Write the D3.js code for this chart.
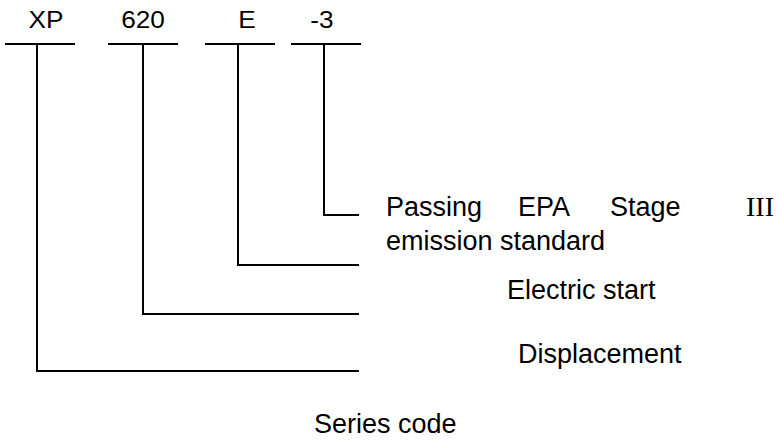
<!DOCTYPE html>
<html>
<head>
<meta charset="utf-8">
<script src="https://cdn.jsdelivr.net/npm/d3@7"></script>
<style>
body { margin: 0; background: #fff; }
text { font-family: "Liberation Sans", Arial, sans-serif; font-size: 27px; fill: #000; }
</style>
</head>
<body>
<div id="main"></div>
<script>
// model code parts, left to right
var codeParts = ["XP", "620", "E", "-3"];
// what each part means
var meanings = ["Series code", "Displacement", "Electric start", "Passing EPA Stage III emission standard"];

// layout
var W = 779, H = 440;
var barLeft = [5, 108, 205, 291];
var barW = 70;
var stemX = [37, 143, 238, 324];
var labelX = [46, 143, 247, 322];
var elbowY = [371, 314, 265, 215];
var barY = 44;
var lineEnd = 359;
// word starts of the spread-out first line of the last description
var wordX = [386, 518, 610, 746];

var svg = d3.select("#main").append("svg")
	.attr("width", W)
	.attr("height", H);

var parts = codeParts.map(function(d, i){ return {code: d, meaning: meanings[i], i: i}; });

var g = svg.selectAll("g.part").data(parts)
	.enter()
	.append("g")
	.attr("class", "part");

// top labels (a bit wide in the original)
g.append("text")
	.attr("transform", function(d){ return "translate(" + labelX[d.i] + ",28) scale(1.14,1)"; })
	.attr("text-anchor", "middle")
	.style("font-size", "23px")
	.text(function(d){ return d.code; });

// bar under label
g.append("line")
	.attr("x1", function(d){ return barLeft[d.i]; })
	.attr("x2", function(d){ return barLeft[d.i] + barW; })
	.attr("y1", barY).attr("y2", barY)
	.attr("stroke", "#000").attr("stroke-width", 2);

// stem + elbow to the right
g.append("path")
	.attr("d", function(d){
		return "M" + stemX[d.i] + "," + barY + "V" + elbowY[d.i] + "H" + lineEnd;
	})
	.attr("fill", "none")
	.attr("stroke", "#000")
	.attr("stroke-width", 2);

// descriptions
svg.append("text").attr("x", 314).attr("y", 433).text(meanings[0]);
svg.append("text").attr("x", 518).attr("y", 363).text(meanings[1]);
svg.append("text").attr("x", 507).attr("y", 299).text(meanings[2]);

// last one runs over two lines, first line spread out
var words = meanings[3].split(" ");
var line1 = words.slice(0, 4), line2 = words.slice(4).join(" ");
svg.selectAll("text.w").data(line1)
	.enter()
	.append("text")
	.attr("class", "w")
	.attr("x", function(d, i){ return wordX[i]; })
	.attr("y", 216)
	// the roman numeral is a serif glyph in the original
	.style("font-family", function(d){ return d == "III" ? "'Liberation Serif', serif" : null; })
	.style("font-size", function(d){ return d == "III" ? "28px" : null; })
	.text(function(d){ return d; });
svg.append("text").attr("x", wordX[0]).attr("y", 250).text(line2);
</script>
</body>
</html>
